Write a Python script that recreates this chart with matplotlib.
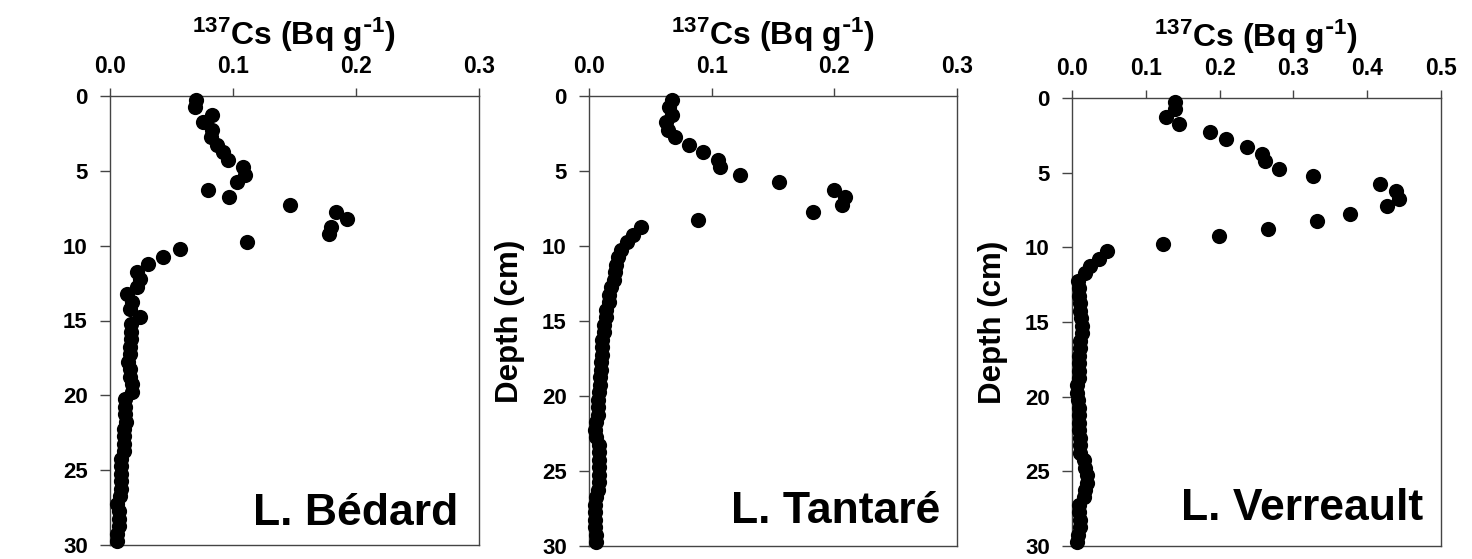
import matplotlib
matplotlib.use("Agg")
import matplotlib.pyplot as plt
import numpy as np

plt.rcParams['font.family'] = ['Liberation Sans', 'DejaVu Sans']
plt.rcParams['font.weight'] = 'bold'
plt.rcParams['mathtext.default'] = 'regular'

depth = [0.25 + 0.5 * i for i in range(60)]

bedard = [0.070, 0.069, 0.083, 0.076, 0.083, 0.082, 0.087, 0.092, 0.096, 0.108,
          0.110, 0.103, 0.080, 0.097, 0.146, 0.184, 0.193, 0.180, 0.178, 0.111,
          0.057, 0.043, 0.031, 0.022, 0.024, 0.022, 0.014, 0.018, 0.016, 0.024,
          0.017, 0.017, 0.017, 0.016, 0.016, 0.015, 0.016, 0.016, 0.018, 0.018,
          0.012, 0.012, 0.012, 0.013, 0.011, 0.011, 0.011, 0.011, 0.009, 0.009,
          0.009, 0.009, 0.009, 0.008, 0.006, 0.007, 0.007, 0.007, 0.006, 0.006]

tantare = [0.068, 0.065, 0.068, 0.063, 0.064, 0.070, 0.0815, 0.093, 0.105, 0.107,
           0.123, 0.155, 0.200, 0.209, 0.206, 0.183, 0.089, 0.042, 0.036, 0.031,
           0.026, 0.024, 0.022, 0.021, 0.020, 0.018, 0.016, 0.016, 0.014, 0.014,
           0.012, 0.012, 0.011, 0.011, 0.011, 0.010, 0.010, 0.009, 0.009, 0.008,
           0.007, 0.007, 0.007, 0.006, 0.005, 0.006, 0.008, 0.008, 0.008, 0.008,
           0.008, 0.008, 0.007, 0.006, 0.005, 0.005, 0.005, 0.005, 0.006, 0.006]

verreault = [0.139, 0.140, 0.128, 0.145, 0.187, 0.209, 0.237, 0.258, 0.262, 0.280,
             0.326, 0.418, 0.439, 0.443, 0.427, 0.377, 0.332, 0.265, 0.199, 0.123,
             0.048, 0.036, 0.025, 0.017, 0.008, 0.009, 0.010, 0.011, 0.011, 0.012,
             0.013, 0.013, 0.011, 0.011, 0.009, 0.009, 0.009, 0.009, 0.007, 0.007,
             0.008, 0.009, 0.009, 0.009, 0.010, 0.011, 0.011, 0.011, 0.016, 0.018,
             0.021, 0.021, 0.017, 0.016, 0.010, 0.009, 0.011, 0.011, 0.008, 0.007]

lakes = ["L. Bédard", "L. Tantaré", "L. Verreault"]
series = [bedard, tantare, verreault]
xmax = [0.3, 0.3, 0.5]
xticks = [[0.0, 0.1, 0.2, 0.3], [0.0, 0.1, 0.2, 0.3], [0.0, 0.1, 0.2, 0.3, 0.4, 0.5]]
yticks = [0, 5, 10, 15, 20, 25, 30]

W, H = 1472, 559
fig = plt.figure(figsize=(W / 100, H / 100), dpi=100)

# axes pixel boxes (left, right, top, bottom)
boxes = [(110, 479, 96, 545), (589, 957, 96, 546), (1072, 1441, 98, 546)]
label_pos = [(0.943, 0.045), (0.954, 0.051), (0.951, 0.058)]

for i, (l, r, t, b) in enumerate(boxes):
    ax = fig.add_axes([l / W, (H - b) / H, (r - l) / W, (b - t) / H])
    ax.scatter(series[i], depth, s=120, color='black', zorder=3, clip_on=False, linewidths=0)
    ax.set_xlim(0, xmax[i])
    ax.set_ylim(30, 0)
    ax.set_xticks(xticks[i])
    ax.set_xticklabels([f"{v:.1f}" for v in xticks[i]])
    ax.set_yticks(yticks)
    ax.xaxis.tick_top()
    ax.xaxis.set_label_position('top')
    ax.tick_params(axis='x', direction='out', length=6, width=1, pad=7,
                   labelsize=16.5, colors='#444444', labelcolor='black')
    ax.tick_params(axis='y', direction='out', length=7, width=1, pad=9,
                   labelsize=16, colors='#444444', labelcolor='black')
    for lab in ax.get_xticklabels() + ax.get_yticklabels():
        lab.set_fontweight('bold')
    for sp in ax.spines.values():
        sp.set_color('#444444')
        sp.set_linewidth(1.0)
    ax.set_xlabel(r'$^{137}$Cs (Bq g$^{\text{-}1}$)', fontsize=23, fontweight='bold', labelpad=7)
    if i > 0:
        ax.set_ylabel('Depth (cm)', fontsize=22.5, fontweight='bold', labelpad=12)
    ax.text(label_pos[i][0], label_pos[i][1], lakes[i], transform=ax.transAxes,
            ha='right', va='baseline', fontsize=32, fontweight='bold')

fig.savefig('out.png', dpi=100)
